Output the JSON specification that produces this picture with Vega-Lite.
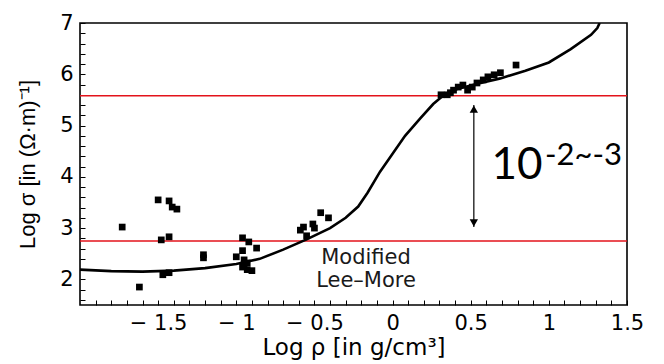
{
  "$schema": "https://vega.github.io/schema/vega-lite/v6.json",
  "width": 547,
  "height": 282,
  "autosize": "none",
  "padding": {"left": 80, "top": 23, "right": 37, "bottom": 59},
  "background": "white",
  "config": {
    "view": {"stroke": "black", "strokeWidth": 1.6},
    "axis": {"grid": false, "domain": false, "labelFont": "DejaVu Sans", "titleFont": "DejaVu Sans", "labelColor": "black", "titleColor": "black", "tickColor": "black", "tickWidth": 1, "labelFontSize": 21, "titleFontSize": 22, "titleFontWeight": "normal"}
  },
  "datasets": {
    "curve": [
      {"x": -2.0, "y": 2.19}, {"x": -1.8, "y": 2.16}, {"x": -1.6, "y": 2.15}, {"x": -1.4, "y": 2.17}, {"x": -1.2, "y": 2.22}, {"x": -1.0, "y": 2.3}, {"x": -0.85, "y": 2.4}, {"x": -0.7, "y": 2.58}, {"x": -0.55, "y": 2.78}, {"x": -0.4, "y": 3.0}, {"x": -0.3, "y": 3.2}, {"x": -0.22, "y": 3.42}, {"x": -0.16, "y": 3.69}, {"x": -0.08, "y": 4.1}, {"x": 0.0, "y": 4.45}, {"x": 0.08, "y": 4.8}, {"x": 0.18, "y": 5.15}, {"x": 0.26, "y": 5.42}, {"x": 0.33, "y": 5.6}, {"x": 0.42, "y": 5.72}, {"x": 0.55, "y": 5.82}, {"x": 0.69, "y": 5.92}, {"x": 0.85, "y": 6.07}, {"x": 1.0, "y": 6.23}, {"x": 1.14, "y": 6.49}, {"x": 1.27, "y": 6.77}, {"x": 1.31, "y": 6.9}, {"x": 1.325, "y": 7.0}
    ],
    "points": [
      {"x": -1.5, "y": 3.55}, {"x": -1.43, "y": 3.53}, {"x": -1.41, "y": 3.41}, {"x": -1.38, "y": 3.37}, {"x": -1.73, "y": 3.02}, {"x": -1.48, "y": 2.77}, {"x": -1.43, "y": 2.83}, {"x": -1.21, "y": 2.48}, {"x": -1.21, "y": 2.42}, {"x": -1.47, "y": 2.09}, {"x": -1.43, "y": 2.13}, {"x": -1.62, "y": 1.85},
      {"x": -0.96, "y": 2.81}, {"x": -0.92, "y": 2.73}, {"x": -0.87, "y": 2.61}, {"x": -1.0, "y": 2.44}, {"x": -0.96, "y": 2.56}, {"x": -0.95, "y": 2.38}, {"x": -0.93, "y": 2.32}, {"x": -0.96, "y": 2.24}, {"x": -0.93, "y": 2.19}, {"x": -0.9, "y": 2.17}, {"x": -0.95, "y": 2.28},
      {"x": -0.59, "y": 2.96}, {"x": -0.57, "y": 3.02}, {"x": -0.55, "y": 2.85}, {"x": -0.51, "y": 3.08}, {"x": -0.5, "y": 3.0}, {"x": -0.46, "y": 3.3}, {"x": -0.41, "y": 3.2},
      {"x": 0.31, "y": 5.6}, {"x": 0.35, "y": 5.6}, {"x": 0.37, "y": 5.64}, {"x": 0.39, "y": 5.69}, {"x": 0.42, "y": 5.75}, {"x": 0.45, "y": 5.79}, {"x": 0.48, "y": 5.69}, {"x": 0.51, "y": 5.75}, {"x": 0.54, "y": 5.83}, {"x": 0.58, "y": 5.89}, {"x": 0.61, "y": 5.95}, {"x": 0.65, "y": 5.99}, {"x": 0.69, "y": 6.03}, {"x": 0.79, "y": 6.18}
    ],
    "hlines": [{"y": 5.58}, {"y": 2.75}],
    "arrow": [{"x": 0.52, "y": 3.02, "y2": 5.4}],
    "heads": [{"x": 0.52, "y": 5.32, "dir": "up"}, {"x": 0.52, "y": 3.1, "dir": "down"}],
    "big": [{"x": 0.96, "y": 3.96, "t": "10"}],
    "sup": [{"x": 0.975, "y": 4.23, "t": "-2~-3"}],
    "model": [{"x": -0.17, "y": 2.29, "t": "Modified"}, {"x": -0.17, "y": 1.86, "t": "Lee–More"}]
  },
  "encoding": {
    "x": {"field": "x", "type": "quantitative", "scale": {"domain": [-2.0, 1.5], "nice": false, "zero": false},
      "axis": {"title": "Log ρ [in g/cm³]", "titleFontSize": 23, "values": [-1.9,-1.8,-1.7,-1.6,-1.5,-1.4,-1.3,-1.2,-1.1,-1.0,-0.9,-0.8,-0.7,-0.6,-0.5,-0.4,-0.3,-0.2,-0.1,0,0.1,0.2,0.3,0.4,0.5,0.6,0.7,0.8,0.9,1.0,1.1,1.2,1.3,1.4,1.5],
        "labelOverlap": false, "labelFlush": false,
        "labelExpr": "abs(datum.value*2 - round(datum.value*2)) < 0.01 ? (datum.value < 0 ? '− ' + format(-datum.value, '~g') : format(datum.value, '~g')) : ''",
        "tickSize": -5,
        "labelPadding": 12, "titlePadding": 3}},
    "y": {"field": "y", "type": "quantitative", "scale": {"domain": [1.5, 7.0], "nice": false, "zero": false},
      "axis": {"title": "Log σ [in (Ω·m)⁻¹]", "titleFont": "Liberation Sans", "values": [1.6,1.8,2.0,2.2,2.4,2.6,2.8,3.0,3.2,3.4,3.6,3.8,4.0,4.2,4.4,4.6,4.8,5.0,5.2,5.4,5.6,5.8,6.0,6.2,6.4,6.6,6.8,7.0],
        "labelOverlap": false, "labelFlush": false,
        "labelExpr": "abs(datum.value - round(datum.value)) < 0.01 ? format(datum.value, 'd') : ''",
        "tickSize": -5,
        "labelPadding": 12, "titlePadding": 20}}
  },
  "layer": [
    {"data": {"name": "hlines"}, "mark": {"type": "rule", "color": "#e3131b", "strokeWidth": 1.5}, "encoding": {"x": null, "y": {"field": "y", "type": "quantitative"}}},
    {"data": {"name": "curve"}, "mark": {"type": "line", "color": "black", "strokeWidth": 2.6, "clip": true}},
    {"data": {"name": "points"}, "mark": {"type": "point", "shape": "square", "filled": true, "color": "black", "size": 45, "opacity": 1}},
    {"data": {"name": "arrow"}, "mark": {"type": "rule", "color": "black", "strokeWidth": 1.2}, "encoding": {"y2": {"field": "y2"}}},
    {"data": {"name": "heads"}, "mark": {"type": "point", "filled": true, "color": "black", "size": 70, "opacity": 1},
      "encoding": {"shape": {"field": "dir", "type": "nominal", "scale": {"domain": ["up", "down"], "range": ["triangle-up", "triangle-down"]}, "legend": null}}},
    {"data": {"name": "big"}, "mark": {"type": "text", "font": "Lato", "fontSize": 44, "align": "right", "baseline": "alphabetic", "color": "black"}, "encoding": {"text": {"field": "t"}}},
    {"data": {"name": "sup"}, "mark": {"type": "text", "font": "Lato", "fontSize": 31, "align": "left", "baseline": "alphabetic", "color": "black"}, "encoding": {"text": {"field": "t"}}},
    {"data": {"name": "model"}, "mark": {"type": "text", "font": "DejaVu Sans", "fontSize": 21, "align": "center", "baseline": "alphabetic", "color": "#1a1a1a"}, "encoding": {"text": {"field": "t"}}}
  ]
}
